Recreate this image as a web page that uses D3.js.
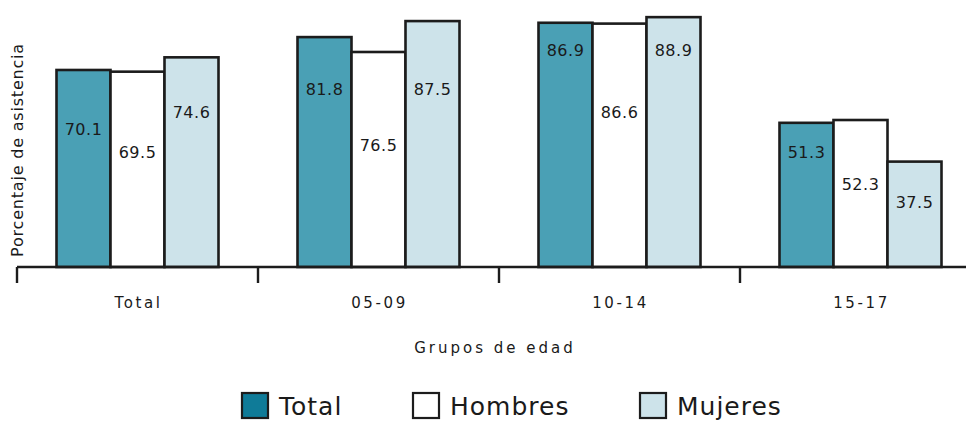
<!DOCTYPE html>
<html><head><meta charset="utf-8">
<script src="https://cdn.jsdelivr.net/npm/d3@7"></script>
<style>
html,body{margin:0;padding:0;background:#fff;}
svg{display:block;font-family:"DejaVu Sans",sans-serif;}
</style></head>
<body>
<svg id="c" width="966" height="421"></svg>
<script>
const categories = ["Total", "05-09", "10-14", "15-17"];
const seriesNames = ["Total", "Hombres", "Mujeres"];
const totalVals   = [70.1, 81.8, 86.9, 51.3];
const hombresVals = [69.5, 76.5, 86.6, 52.3];
const mujeresVals = [74.6, 87.5, 88.9, 37.5];
// value-unit height where each data label sits (as placed in the original)
const totalLabelAt   = [48.8, 63.0, 77.2, 40.9];
const hombresLabelAt = [40.9, 43.4, 54.8, 29.2];
const mujeresLabelAt = [54.8, 63.0, 77.2, 22.8];

const colors = ["#4aa0b5", "#ffffff", "#cde3ea"];
const legendColors = ["#0f7b98", "#ffffff", "#cde3ea"];

const svg = d3.select("#c");
const x0 = 17, bandW = 241;
const x = d3.scaleBand().domain(categories).range([x0, x0 + bandW * categories.length]).paddingInner(0).paddingOuter(0);
const y = d3.scaleLinear().domain([0, 95]).range([267, 0]);
const barW = 54;
const xs = d3.scaleBand().domain(seriesNames).range([0, barW * 3]);

const series = [totalVals, hombresVals, mujeresVals];
const labelsAt = [totalLabelAt, hombresLabelAt, mujeresLabelAt];

const g = svg.append("g");
series.forEach((vals, si) => {
  categories.forEach((c, ci) => {
    const bx = x(c) + (bandW - barW * 3) / 2 + xs(seriesNames[si]);
    g.append("rect")
      .attr("x", bx).attr("y", y(vals[ci]))
      .attr("width", barW).attr("height", y(0) - y(vals[ci]))
      .attr("fill", colors[si]).attr("stroke", "#1c1c1c").attr("stroke-width", 2.6);
  });
});
series.forEach((vals, si) => {
  categories.forEach((c, ci) => {
    const bx = x(c) + (bandW - barW * 3) / 2 + xs(seriesNames[si]);
    g.append("text")
      .attr("x", bx + barW / 2).attr("y", y(labelsAt[si][ci]))
      .attr("text-anchor", "middle").attr("dominant-baseline", "central")
      .attr("font-size", 16).attr("letter-spacing", 0.5).attr("fill", "#1a1a1a")
      .text(vals[ci].toFixed(1));
  });
});

// x axis
const ax = svg.append("g").attr("transform", `translate(0,${y(0)})`);
ax.append("line").attr("x1", x0).attr("x2", 966).attr("y1", 0).attr("y2", 0)
  .attr("stroke", "#1c1c1c").attr("stroke-width", 2.4);
const tickPos = d3.range(categories.length + 1).map(i => x0 + i * bandW);
ax.selectAll("line.tk").data(tickPos).enter().append("line").attr("class", "tk")
  .attr("x1", d => d).attr("x2", d => d).attr("y1", 0).attr("y2", 16)
  .attr("stroke", "#1c1c1c").attr("stroke-width", 2.4);
ax.selectAll("text.cat").data(categories).enter().append("text").attr("class", "cat")
  .attr("x", d => x(d) + bandW / 2 + 1).attr("y", 36)
  .attr("text-anchor", "middle").attr("dominant-baseline", "central")
  .attr("font-size", 15).attr("letter-spacing", 2.6).attr("fill", "#1a1a1a").text(d => d);

svg.append("text").attr("x", 495).attr("y", 348)
  .attr("text-anchor", "middle").attr("dominant-baseline", "central")
  .attr("font-size", 15).attr("letter-spacing", 3).attr("fill", "#1a1a1a").text("Grupos de edad");

svg.append("text").attr("transform", "translate(17,150) rotate(-90)")
  .attr("text-anchor", "middle").attr("dominant-baseline", "central")
  .attr("font-size", 16).attr("letter-spacing", 0.8).attr("fill", "#1a1a1a").text("Porcentaje de asistencia");

// legend
const legX = [242, 413, 640];
const leg = svg.append("g");
seriesNames.forEach((n, i) => {
  leg.append("rect").attr("x", legX[i]).attr("y", 393).attr("width", 26).attr("height", 25)
    .attr("fill", legendColors[i]).attr("stroke", "#1c1c1c").attr("stroke-width", 2.2);
  leg.append("text").attr("x", legX[i] + 37).attr("y", 406)
    .attr("dominant-baseline", "central").attr("font-size", 25).attr("letter-spacing", 1)
    .attr("fill", "#1a1a1a").text(n);
});
</script>
</body></html>
